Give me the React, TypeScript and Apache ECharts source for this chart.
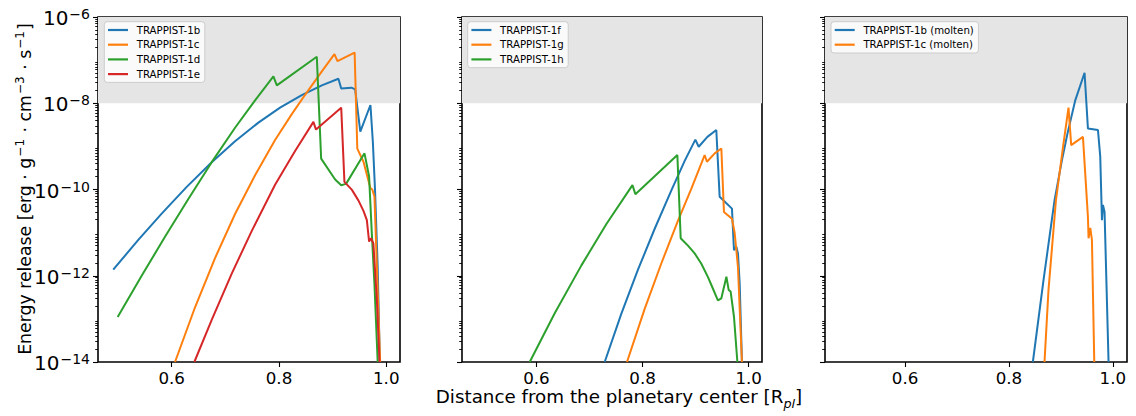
import React, { useEffect, useRef } from "react";
import * as echarts from "echarts";

const FONT = "'DejaVu Sans', 'Liberation Sans', sans-serif";
const BLUE = "#1f77b4";
const ORANGE = "#ff7f0e";
const GREEN = "#2ca02c";
const RED = "#d62728";

// ---- Panel 1 (solid planets b..e) ----
const xB = [0.491, 0.5377, 0.5813, 0.628, 0.6746, 0.7181, 0.7616, 0.802, 0.8425, 0.8799, 0.9108, 0.916, 0.935, 0.942, 0.9516, 0.9705, 0.975, 0.979, 0.984, 0.988];
const yB = [1.38e-12, 6.8e-12, 2.75e-11, 1.15e-10, 4.3e-10, 1.32e-9, 3.55e-9, 7.9e-9, 1.55e-8, 2.6e-8, 3.7e-8, 2.2e-8, 2.3e-8, 2.1e-8, 2.2e-9, 9.1e-9, 1.26e-9, 1.0e-10, 1.6e-12, 1e-14];

const xC = [0.6062, 0.6435, 0.6808, 0.7181, 0.7554, 0.7927, 0.8239, 0.8487, 0.8799, 0.9034, 0.909, 0.941, 0.946, 0.9575, 0.9705, 0.974, 0.978, 0.9825, 0.9886];
const yC = [1e-14, 1.86e-13, 2.57e-12, 2.7e-11, 2.14e-10, 1.41e-9, 5.6e-9, 1.57e-8, 5.5e-8, 1.38e-7, 9.5e-8, 1.5e-7, 8.9e-10, 4.4e-10, 1.07e-10, 1.0e-10, 6.8e-11, 1.6e-12, 1e-14];

const xD = [0.4993, 0.544, 0.5875, 0.631, 0.6746, 0.7181, 0.7554, 0.7896, 0.796, 0.8705, 0.8786, 0.9047, 0.916, 0.925, 0.9594, 0.968, 0.973, 0.978, 0.984];
const yD = [1.1e-13, 1.0e-12, 8.0e-12, 6.0e-11, 4.3e-10, 2.7e-9, 1.17e-8, 4.2e-8, 2.6e-8, 1.2e-7, 5.2e-10, 1.7e-10, 1.26e-10, 1.35e-10, 6.9e-10, 2.0e-10, 1.0e-11, 6.3e-13, 1e-14];

const xE = [0.6422, 0.6746, 0.7119, 0.7493, 0.7927, 0.83, 0.8642, 0.869, 0.916, 0.922, 0.936, 0.948, 0.9575, 0.9638, 0.968, 0.9718, 0.976, 0.9825, 0.9874];
const yE = [1e-14, 9.5e-14, 1.12e-12, 1.1e-11, 1.29e-10, 7.8e-10, 3.7e-9, 2.45e-9, 7.9e-9, 1.5e-10, 9.8e-11, 5.6e-11, 3.2e-11, 1.95e-11, 6.2e-12, 7.4e-12, 5.6e-12, 2.7e-13, 1e-14];

// ---- Panel 2 (planets f..h) ----
const xF = [0.7287, 0.7601, 0.7914, 0.8229, 0.8543, 0.8794, 0.8995, 0.9058, 0.9222, 0.939, 0.9453, 0.9685, 0.9723, 0.9768, 0.9798, 0.983, 0.9873];
const yF = [1e-14, 1.32e-13, 1.38e-12, 1.23e-11, 9.5e-11, 4.6e-10, 1.43e-9, 9.8e-10, 1.66e-9, 2.4e-9, 6.8e-11, 3.6e-11, 3.9e-12, 4.7e-12, 3.3e-12, 6.8e-13, 1e-14];

const xG = [0.7707, 0.804, 0.8355, 0.8668, 0.892, 0.917, 0.9214, 0.936, 0.9485, 0.9534, 0.9685, 0.9736, 0.9798, 0.9873];
const yG = [1e-14, 1.7e-13, 1.95e-12, 1.9e-11, 1.05e-10, 6.3e-10, 4.4e-10, 6.9e-10, 8.9e-10, 3.0e-11, 2.1e-11, 9.8e-12, 1.6e-12, 1e-14];

const xH = [0.5874, 0.6345, 0.6848, 0.7319, 0.781, 0.7865, 0.8656, 0.8719, 0.8856, 0.8982, 0.9108, 0.9233, 0.9327, 0.942, 0.9485, 0.958, 0.9623, 0.966, 0.9723, 0.9787];
const yH = [1e-14, 1.35e-13, 1.74e-12, 1.58e-11, 1.26e-10, 7.8e-11, 6.3e-10, 7.4e-12, 5.0e-12, 3.3e-12, 1.9e-12, 9.3e-13, 5.0e-13, 2.7e-13, 3.0e-13, 9.5e-13, 4.7e-13, 4.3e-13, 1.12e-13, 1e-14];

// ---- Panel 3 (molten b, c) ----
const xBm = [0.846, 0.8665, 0.8877, 0.902, 0.9127, 0.9276, 0.9455, 0.952, 0.9713, 0.9757, 0.979, 0.9809, 0.984, 0.9917];
const yBm = [1e-14, 7.9e-13, 5.6e-11, 4.8e-10, 2.0e-9, 1.17e-8, 5.1e-8, 2.6e-9, 2.4e-9, 5.8e-10, 1.95e-11, 4.4e-11, 3.0e-11, 1e-14];

const xCm = [0.8684, 0.8761, 0.8904, 0.905, 0.9146, 0.9198, 0.9424, 0.952, 0.9532, 0.9565, 0.9597, 0.9642];
const yCm = [1e-14, 4.7e-13, 5.6e-11, 1.17e-9, 7.9e-9, 1.07e-9, 1.66e-9, 2.3e-11, 7.4e-12, 1.29e-11, 6.8e-12, 1e-14];

// ---- axes ----
const xRanges = [
  [0.4626, 1.0256],
  [0.4598, 1.0251],
  [0.4459, 1.0272],
];
const xTickValues = [0.6, 0.8, 1.0];
const yMin = 1e-14;
const yMax = 1e-6;
const yMinorMantissas = [2, 3, 4, 5, 6, 7, 8, 9];
const bandLow = 1e-8;
const bandHigh = 1e-6;

const legendNames = [
  ["TRAPPIST-1b", "TRAPPIST-1c", "TRAPPIST-1d", "TRAPPIST-1e"],
  ["TRAPPIST-1f", "TRAPPIST-1g", "TRAPPIST-1h"],
  ["TRAPPIST-1b (molten)", "TRAPPIST-1c (molten)"],
];

const grids = [
  { left: 98, top: 17, width: 302, height: 345 },
  { left: 462, top: 17, width: 300, height: 345 },
  { left: 825, top: 17, width: 302, height: 345 },
];
const legendLefts = [104.3, 467.7, 831];

const minorTickPositions: number[] = [];
for (let k = -14; k < -6; k++) {
  for (const m of yMinorMantissas) minorTickPositions.push(k + Math.log10(m));
}

function mkLine(name: string, xs: number[], ys: number[], color: string, panel: number, withBand: boolean) {
  const s: any = {
    type: "line",
    name,
    xAxisIndex: panel,
    yAxisIndex: panel,
    data: xs.map((x, i) => [x, ys[i]]),
    showSymbol: false,
    symbol: "none",
    color,
    lineStyle: { width: 2, color },
    itemStyle: { color },
    z: 3,
    silent: true,
    clip: true,
  };
  if (withBand) {
    s.markArea = {
      silent: true,
      z: 1,
      itemStyle: { color: "#e5e5e5" },
      data: [[{ yAxis: bandLow }, { yAxis: bandHigh }]],
    };
  }
  return s;
}

export default function App() {
  const ref = useRef<HTMLDivElement>(null);
  useEffect(() => {
    if (!ref.current) return;
    const chart = echarts.init(ref.current, null, { renderer: "svg" });

    const xAxis = grids.map((_, i) => ({
      type: "value",
      gridIndex: i,
      min: xRanges[i][0],
      max: xRanges[i][1],
      axisLine: { show: false },
      splitLine: { show: false },
      axisTick: { show: true, customValues: xTickValues, length: 5, lineStyle: { color: "#000", width: 1.1 } },
      axisLabel: {
        customValues: xTickValues,
        formatter: (v: number) => v.toFixed(1),
        fontSize: 16.7,
        fontFamily: FONT,
        color: "#000",
        margin: 7,
      },
    }));

    const logAxes = grids.map((_, i) => ({
      type: "log",
      logBase: 10,
      gridIndex: i,
      min: yMin,
      max: yMax,
      show: false,
    }));
    const majorAxes = grids.map((_, i) => ({
      type: "value",
      gridIndex: i,
      position: "left",
      min: -14,
      max: -6,
      interval: 2,
      axisLine: { show: false },
      splitLine: { show: false },
      axisTick: { show: true, length: 5, lineStyle: { color: "#000", width: 1.1 } },
      axisLabel: {
        show: i === 0,
        margin: 8,
        formatter: (v: number) => `{b|10}{s|\u2212${Math.abs(v)}}`,
        rich: {
          b: { fontSize: 20, fontFamily: FONT, color: "#000", lineHeight: 20, padding: [1, 0, 0, 0], verticalAlign: "top" },
          s: { fontSize: 14, fontFamily: FONT, color: "#000", lineHeight: 14, padding: [0, 0, 0, 1], verticalAlign: "top" },
        },
      },
    }));
    const minorAxes = grids.map((_, i) => ({
      type: "value",
      gridIndex: i,
      position: "left",
      min: -14,
      max: -6,
      axisLine: { show: false },
      splitLine: { show: false },
      axisLabel: { show: false },
      axisTick: { show: true, customValues: minorTickPositions, length: 2.8, lineStyle: { color: "#000", width: 0.9 } },
    }));

    const series = [
      mkLine("TRAPPIST-1b", xB, yB, BLUE, 0, true),
      mkLine("TRAPPIST-1c", xC, yC, ORANGE, 0, false),
      mkLine("TRAPPIST-1d", xD, yD, GREEN, 0, false),
      mkLine("TRAPPIST-1e", xE, yE, RED, 0, false),
      mkLine("TRAPPIST-1f", xF, yF, BLUE, 1, true),
      mkLine("TRAPPIST-1g", xG, yG, ORANGE, 1, false),
      mkLine("TRAPPIST-1h", xH, yH, GREEN, 1, false),
      mkLine("TRAPPIST-1b (molten)", xBm, yBm, BLUE, 2, true),
      mkLine("TRAPPIST-1c (molten)", xCm, yCm, ORANGE, 2, false),
    ];

    const legend = legendNames.map((names, i) => ({
      show: true,
      orient: "vertical",
      left: legendLefts[i],
      top: 21.7,
      data: names,
      icon: "rect",
      itemWidth: 20,
      itemHeight: 2.2,
      itemGap: 2.7,
      selectedMode: false,
      backgroundColor: "rgba(255,255,255,0.8)",
      borderColor: "#cccccc",
      borderWidth: 1,
      borderRadius: 3,
      padding: [2.3, 4.6, 2.3, 3.7],
      textStyle: { fontSize: 10.2, fontFamily: FONT, color: "#000", lineHeight: 12, padding: [0, 0, 0, 3.7] },
    }));

    const yNameRich = {
      n: { fontSize: 17.3, fontFamily: FONT, fill: "#000", lineHeight: 18, padding: [5, 0, 0, 0], verticalAlign: "top" },
      s: { fontSize: 12.1, fontFamily: FONT, fill: "#000", lineHeight: 12, padding: [3, 1, 0, 1], verticalAlign: "top" },
    };

    const option: any = {
      animation: false,
      backgroundColor: "#ffffff",
      grid: grids.map((g) => ({ ...g, show: true, borderColor: "#000", borderWidth: 1.6, backgroundColor: "transparent", containLabel: false })),
      xAxis,
      yAxis: [...logAxes, ...majorAxes, ...minorAxes],
      legend,
      series,
      graphic: [
        {
          type: "text",
          x: 20,
          y: 189,
          rotation: Math.PI / 2,
          style: {
            text:
              "{n|Energy release [erg \u00b7 g}{s|\u22121}{n| \u00b7 cm}{s|\u22123}{n| \u00b7 s}{s|\u22121}{n|]}",
            rich: yNameRich,
            fill: "#000",
            align: "center",
            verticalAlign: "middle",
          },
        },
        {
          type: "text",
          x: 619,
          y: 398,
          style: {
            text: "{n|Distance from the planetary center [R}{sub|pl}{n|]}",
            align: "center",
            verticalAlign: "middle",
            fill: "#000",
            rich: {
              n: { fontSize: 18.3, fontFamily: FONT, fill: "#000", lineHeight: 21, verticalAlign: "top" },
              sub: { fontSize: 12.8, fontFamily: FONT, fontStyle: "italic", fill: "#000", lineHeight: 13, padding: [9, 0, 0, 0], verticalAlign: "top" },
            },
          },
        },
      ],
    };
    chart.setOption(option);
    return () => chart.dispose();
  }, []);
  return <div ref={ref} style={{ position: "absolute", left: 0, top: 0, width: 1136, height: 416, background: "#fff" }} />;
}
